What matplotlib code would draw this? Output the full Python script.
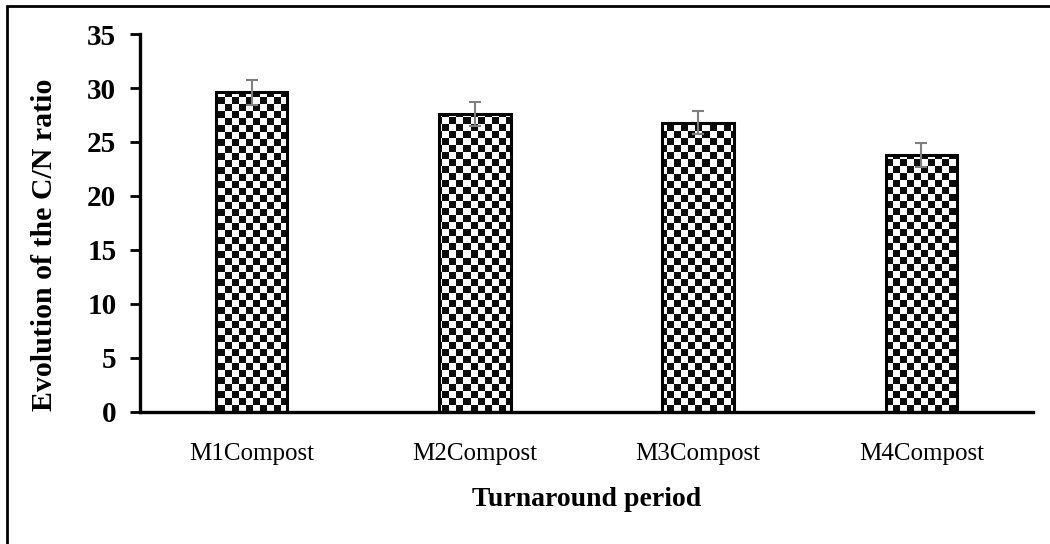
import matplotlib
matplotlib.use('Agg')
import matplotlib.pyplot as plt
import numpy as np
from matplotlib.patches import Rectangle

categories = ['M1Compost', 'M2Compost', 'M3Compost', 'M4Compost']
cn_ratio = [29.6, 27.6, 26.8, 23.8]
cn_err = [1.15, 1.15, 1.1, 1.15]
yticks = [0, 5, 10, 15, 20, 25, 30, 35]

plt.rcParams['font.family'] = ['Liberation Serif', 'DejaVu Serif']

fig = plt.figure(figsize=(10.5, 5.44), dpi=100)
ax = fig.add_axes([140 / 1050, 1 - 412 / 544, 893 / 1050, 378 / 544])

x = np.arange(len(categories))
bars = ax.bar(x, cn_ratio, width=0.32, facecolor='none', edgecolor='black',
              linewidth=2.2, zorder=2)
ax.errorbar(x, cn_ratio, yerr=cn_err, fmt='none', ecolor='#7f7f7f',
            elinewidth=1.5, capsize=4, capthick=1.5, zorder=4)

# checkered fill, clipped to each bar
ncol = int(893 / 7)
nrow = int(378 / 7)
board = (np.indices((nrow, ncol)).sum(axis=0) % 2) * 0.95 + 0.05
for b in bars:
  im = ax.imshow(board, cmap='gray', vmin=0, vmax=1, aspect='auto',
                 extent=(-0.5, len(categories) - 0.5, 0, 35),
                 interpolation='nearest', zorder=1)
  im.set_clip_path(b)
ax.set_xlim(-0.5, len(categories) - 0.5)
ax.set_ylim(0, 35)

ax.set_xticks(x)
ax.set_xticklabels(categories, fontsize=18)
ax.set_yticks(yticks)
ax.set_yticklabels([str(t) for t in yticks], fontsize=21, fontweight='bold')
ax.tick_params(axis='x', length=0, pad=22)
ax.tick_params(axis='y', length=7, width=2, direction='out', pad=10)

for side in ['top', 'right']:
  ax.spines[side].set_visible(False)
for side in ['left', 'bottom']:
  ax.spines[side].set_linewidth(2.4)

ax.set_xlabel('Turnaround period', fontsize=20, fontweight='bold', va='center')
ax.xaxis.set_label_coords(0.5, -(500 - 412) / 378)
ax.set_ylabel('Evolution of the C/N ratio', fontsize=21.5, fontweight='bold',
              va='center')
ax.yaxis.set_label_coords((45 - 140) / 893, (412 - 245) / 378)

# outer frame, cut by the image edge
fig.patches.append(Rectangle((7 / 1050, -0.05), 1.2, 1 - 6 / 544 + 0.05,
                             transform=fig.transFigure, fill=False,
                             edgecolor='black', linewidth=2.0))

fig.savefig('out.png', dpi=100)
